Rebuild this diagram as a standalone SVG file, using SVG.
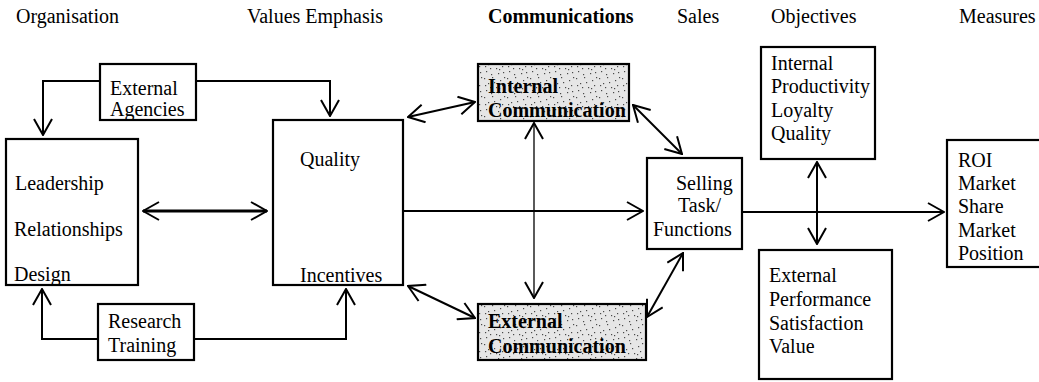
<svg xmlns="http://www.w3.org/2000/svg" width="1039" height="382" viewBox="0 0 1039 382" font-family="'Liberation Serif', 'DejaVu Serif', serif">
<style>
text{font-family:'Liberation Serif','Tinos','DejaVu Serif',serif;font-size:20px;fill:#000}
.b{font-weight:bold}
.box{fill:#fff;stroke:#000;stroke-width:2.2}
.tex{fill:url(#stip);stroke:#000;stroke-width:2.2}
.ln{fill:none;stroke:#000;stroke-width:2}
.thin{fill:none;stroke:#000;stroke-width:1.3}
.thick{fill:none;stroke:#000;stroke-width:2.8}
</style>
<defs>
<pattern id="stip" width="23" height="19" patternUnits="userSpaceOnUse">
<rect width="23" height="19" fill="#e6e6e6"/>
<g fill="#4a4a4a">
<rect x="1" y="2" width="1.2" height="1.2"/><rect x="5" y="7" width="1.2" height="1.2"/><rect x="9" y="1" width="1.2" height="1.2"/>
<rect x="13" y="11" width="1.2" height="1.2"/><rect x="17" y="4" width="1.2" height="1.2"/><rect x="20" y="15" width="1.2" height="1.2"/>
<rect x="3" y="14" width="1.2" height="1.2"/><rect x="8" y="17" width="1.2" height="1.2"/><rect x="11" y="6" width="1.2" height="1.2"/>
<rect x="15" y="16" width="1.2" height="1.2"/><rect x="19" y="9" width="1.2" height="1.2"/><rect x="7" y="11" width="1.2" height="1.2"/>
<rect x="21" y="1" width="1.2" height="1.2"/><rect x="2" y="9" width="1.2" height="1.2"/><rect x="16" y="12" width="1.2" height="1.2"/>
</g>
</pattern>
<marker id="ah" viewBox="0 0 18 20" refX="17" refY="10" markerWidth="18" markerHeight="20" markerUnits="userSpaceOnUse" orient="auto-start-reverse">
<path d="M1,1 L17,10 L1,19" fill="none" stroke="#000" stroke-width="2"/>
</marker>
</defs>

<g id="headers">
<text x="16" y="23">Organisation</text>
<text x="247" y="23">Values Emphasis</text>
<text x="488" y="23" class="b">Communications</text>
<text x="677" y="23">Sales</text>
<text x="771" y="23">Objectives</text>
<text x="959" y="23">Measures</text>
</g>

<g id="connectors">
<polyline class="ln" points="100,81 43,81 43,135" marker-end="url(#ah)"/>
<polyline class="ln" points="196,81 330,81 330,116" marker-end="url(#ah)"/>
<polyline class="ln" points="98,339 42,339 42,289" marker-end="url(#ah)"/>
<polyline class="ln" points="194,339 346,339 346,289" marker-end="url(#ah)"/>
<line class="thick" x1="143" y1="211" x2="267" y2="211" marker-start="url(#ah)" marker-end="url(#ah)"/>
<line class="ln" x1="403" y1="211" x2="643" y2="211" marker-end="url(#ah)"/>
<line class="thin" x1="534" y1="123" x2="534" y2="298" marker-start="url(#ah)" marker-end="url(#ah)"/>
<line class="ln" x1="408" y1="117" x2="475" y2="102" marker-start="url(#ah)" marker-end="url(#ah)"/>
<line class="ln" x1="408" y1="286" x2="475" y2="318" marker-start="url(#ah)" marker-end="url(#ah)"/>
<line class="ln" x1="633" y1="105" x2="682" y2="154" marker-start="url(#ah)" marker-end="url(#ah)"/>
<line class="ln" x1="647" y1="317" x2="683" y2="253" marker-start="url(#ah)" marker-end="url(#ah)"/>
<line class="ln" x1="742" y1="212" x2="944" y2="212" marker-end="url(#ah)"/>
<line class="ln" x1="817" y1="162" x2="817" y2="244" marker-start="url(#ah)" marker-end="url(#ah)"/>
</g>

<g id="external-agencies">
<rect class="box" x="100" y="64" width="96" height="56"/>
<text x="110" y="95">External</text>
<text x="110" y="116">Agencies</text>
</g>

<g id="organisation">
<rect class="box" x="6" y="139" width="132" height="146"/>
<text x="15" y="190">Leadership</text>
<text x="14" y="236">Relationships</text>
<text x="14" y="281">Design</text>
</g>

<g id="research-training">
<rect class="box" x="98" y="304" width="96" height="56"/>
<text x="108" y="328">Research</text>
<text x="108" y="352">Training</text>
</g>

<g id="values">
<rect class="box" x="273" y="120" width="130" height="165"/>
<text x="300" y="166">Quality</text>
<text x="300" y="282">Incentives</text>
</g>

<g id="internal-communication">
<rect class="tex" x="478" y="64" width="151" height="57"/>
<text x="488" y="93" class="b">Internal</text>
<text x="488" y="117" class="b">Communication</text>
</g>

<g id="external-communication">
<rect class="tex" x="478" y="304" width="168" height="56"/>
<text x="488" y="328" class="b">External</text>
<text x="488" y="353" class="b">Communication</text>
</g>

<g id="selling">
<rect class="box" x="647" y="158" width="95" height="91"/>
<text x="676" y="190">Selling</text>
<text x="678" y="212">Task/</text>
<text x="653" y="236">Functions</text>
</g>

<g id="internal-objectives">
<rect class="box" x="761" y="47" width="114" height="112"/>
<text x="771" y="70">Internal</text>
<text x="771" y="93">Productivity</text>
<text x="771" y="117">Loyalty</text>
<text x="771" y="140">Quality</text>
</g>

<g id="external-objectives">
<rect class="box" x="759" y="250" width="133" height="129"/>
<text x="769" y="282">External</text>
<text x="769" y="306">Performance</text>
<text x="769" y="330">Satisfaction</text>
<text x="769" y="353">Value</text>
</g>

<g id="measures">
<rect class="box" x="947" y="140" width="100" height="127"/>
<text x="958" y="167">ROI</text>
<text x="958" y="190">Market</text>
<text x="958" y="213">Share</text>
<text x="958" y="237">Market</text>
<text x="958" y="260">Position</text>
</g>
</svg>
